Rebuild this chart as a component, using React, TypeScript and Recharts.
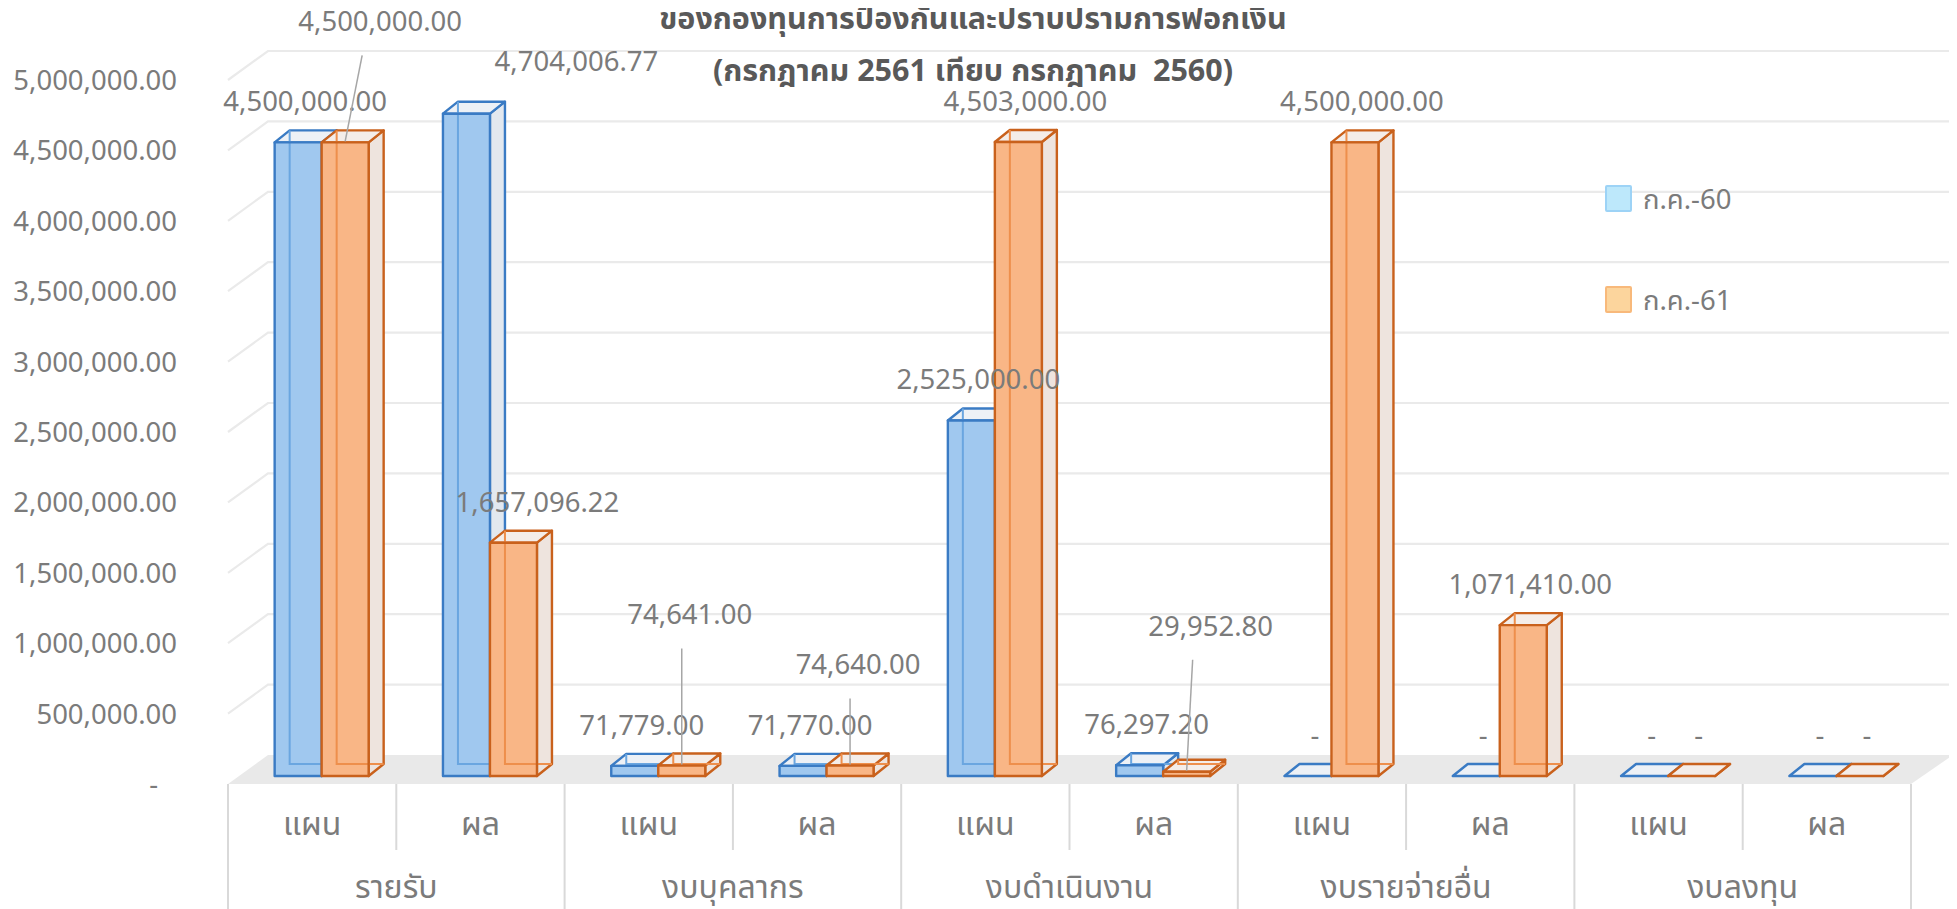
import React from 'react';
import { BarChart, Bar, XAxis, YAxis, CartesianGrid, LabelList } from 'recharts';

// ---------- data ----------
const groups = ['รายรับ', 'งบบุคลากร', 'งบดำเนินงาน', 'งบรายจ่ายอื่น', 'งบลงทุน'];
const subCategories = ['แผน', 'ผล', 'แผน', 'ผล', 'แผน', 'ผล', 'แผน', 'ผล', 'แผน', 'ผล'];
const seriesJul60 = [4500000, 4704006.77, 71779, 71770, 2525000, 76297.2, 0, 0, 0, 0];
const seriesJul61 = [4500000, 1657096.22, 74641, 74640, 4503000, 29952.8, 4500000, 1071410, 0, 0];
const seriesNames = ['ก.ค.-60', 'ก.ค.-61'];
const yTicks = [0, 500000, 1000000, 1500000, 2000000, 2500000, 3000000, 3500000, 4000000, 4500000, 5000000];
const titleLines = ['ของกองทุนการป้องกันและปราบปรามการฟอกเงิน', '(กรกฎาคม 2561 เทียบ กรกฎาคม  2560)'];

const data = subCategories.map((s, i) => ({
  sub: s,
  group: groups[Math.floor(i / 2)],
  v60: seriesJul60[i],
  v61: seriesJul61[i],
}));

// ---------- style / layout ----------
const W = 1949;
const H = 901;
const Y_AXIS_W = 220;
const X_AXIS_H = 125;
const MARGIN = { top: 72, right: 46, bottom: 0, left: 0 };
const PLOT_W = W - Y_AXIS_W - MARGIN.right;
const PLOT_BOTTOM = H - X_AXIS_H;
const BAND_HALF = PLOT_W / subCategories.length / 2;
const FONT = "'Noto Sans', 'Noto Sans Thai', 'Leelawadee UI', sans-serif";
const TEXT = '#7b7b7b';
const TITLE = '#595959';
const NUM_SIZE = 27.5;
const THAI_SIZE = 32;
const WALL_X = 40;
const WALL_Y = -29;
const DEPTH_X = 15;
const DEPTH_Y = -12;
const SHIFT_X = 10;
const SHIFT_Y = -8;

const blueStyle = { front: '#a0c8ef', side: '#e2e8ef', top: '#edf1f6', stroke: '#3a7bc4', inner: '#6aa6e0' };
const orangeStyle = { front: '#f9b686', side: '#eee4de', top: '#f4ede9', stroke: '#c9611c', inner: '#ee8f4c' };
const legendStyles = [
  { fill: '#bde8fb', stroke: '#9dd3f6' },
  { fill: '#fcd59d', stroke: '#f8b97b' },
];

// label nudges (dx, dy) relative to default position above bar
const nudges60: Record<number, [number, number]> = { 1: [103, -12] };
const nudges61: Record<number, [number, number]> = { 0: [28, -80], 1: [17, 0], 2: [1, -110], 3: [1, -60], 5: [17, -105] };

const fmt = (v: number) =>
  v.toLocaleString('en-US', { minimumFractionDigits: 2, maximumFractionDigits: 2 });

const makeBox = (c: typeof blueStyle) => (props: any) => {
  const { x, y, width, height } = props;
  if (x == null || y == null) return <g />;
  const X = x + SHIFT_X;
  const Y = y + SHIFT_Y;
  const w = width;
  const h = Math.max(0, height || 0);
  const dx = DEPTH_X;
  const dy = DEPTH_Y;
  const sw = 2.4;
  return (
    <g>
      <polygon
        points={`${X + w},${Y} ${X + w + dx},${Y + dy} ${X + w + dx},${Y + h + dy} ${X + w},${Y + h}`}
        fill={c.side}
        stroke={c.stroke}
        strokeWidth={sw}
        strokeLinejoin="round"
      />
      <polygon
        points={`${X},${Y} ${X + dx},${Y + dy} ${X + w + dx},${Y + dy} ${X + w},${Y}`}
        fill={c.top}
        stroke={c.stroke}
        strokeWidth={sw}
        strokeLinejoin="round"
      />
      <rect x={X} y={Y} width={w} height={h} fill={c.front} />
      {h > 0 && (
        <path
          d={`M${X + dx},${Y + dy} L${X + dx},${Y + h + dy} L${X + w + dx},${Y + h + dy}`}
          stroke={c.inner}
          strokeWidth={2}
          fill="none"
        />
      )}
      <rect x={X} y={Y} width={w} height={h} fill="none" stroke={c.stroke} strokeWidth={sw} strokeLinejoin="round" />
    </g>
  );
};

const makeLabels = (nudges: Record<number, [number, number]>) => (props: any) => {
  const { x, y, width, value, index } = props;
  if (x == null || y == null) return null;
  const barCx = x + width / 2 + SHIFT_X;
  const topY = y + SHIFT_Y;
  const n = nudges[index] || [0, 0];
  const cx = barCx + 7 + n[0];
  const cy = topY - 41 + n[1];
  const leader = Math.abs(n[1]) > 20;
  const sx = cx + Math.max(-18, Math.min(18, barCx - cx));
  return (
    <g>
      {leader && (
        <line x1={sx} y1={cy + 34} x2={barCx} y2={topY - 1} stroke="#a6a6a6" strokeWidth={1.5} />
      )}
      <text x={cx} y={cy} dy="0.36em" textAnchor="middle" fill={TEXT} fontSize={NUM_SIZE} fontFamily={FONT}>
        {value === 0 ? '-' : fmt(value)}
      </text>
    </g>
  );
};

const YTick = (props: any) => {
  const { x, y, payload } = props;
  const v = payload.value;
  const zero = v === 0;
  return (
    <text x={zero ? x - 19 : x} y={y} dy="0.36em" textAnchor="end" fill={TEXT} fontSize={NUM_SIZE} fontFamily={FONT}>
      {zero ? '-' : fmt(v)}
    </text>
  );
};

const XTick = (props: any) => {
  const { x, y, payload, index } = props;
  const half = BAND_HALF;
  const i = typeof index === 'number' ? index : subCategories.indexOf(payload.value);
  const groupStart = i % 2 === 0;
  const isLast = i === subCategories.length - 1;
  return (
    <g>
      <line
        x1={x - half}
        x2={x - half}
        y1={y}
        y2={groupStart ? H : y + 66}
        stroke="#d9d9d9"
        strokeWidth={2}
      />
      {isLast && <line x1={x + half} x2={x + half} y1={y} y2={H} stroke="#d9d9d9" strokeWidth={2} />}
      <text x={x} y={y + 39} dy="0.36em" textAnchor="middle" fill={TEXT} fontSize={THAI_SIZE} fontFamily={FONT}>
        {payload.value}
      </text>
      {groupStart && (
        <text x={x + half} y={y + 102} dy="0.36em" textAnchor="middle" fill={TEXT} fontSize={THAI_SIZE} fontFamily={FONT}>
          {groups[Math.floor(i / 2)]}
        </text>
      )}
    </g>
  );
};

const gridLine = (p: any) => {
  const { x1, y1, x2, key } = p;
  if (Math.abs(y1 - PLOT_BOTTOM) < 1) {
    return (
      <polygon
        key={key}
        points={`${x1},${y1} ${x1 + WALL_X},${y1 + WALL_Y} ${x2 + WALL_X + 2},${y1 + WALL_Y} ${x2},${y1}`}
        fill="#e9e9e9"
      />
    );
  }
  return (
    <path
      key={key}
      d={`M${x1},${y1} L${x1 + WALL_X},${y1 + WALL_Y} L${x2 + WALL_X + 4},${y1 + WALL_Y}`}
      stroke="#eaeaea"
      strokeWidth={2.2}
      fill="none"
    />
  );
};

const titleStyle: React.CSSProperties = {
  position: 'absolute',
  left: 365,
  width: 1200,
  lineHeight: '32px',
  textAlign: 'center',
  fontSize: 30.5,
  fontWeight: 'bold',
  color: TITLE,
  whiteSpace: 'pre',
};

export default function App() {
  return (
    <div style={{ position: 'relative', width: W, height: H, fontFamily: FONT }}>
      <BarChart
        width={W}
        height={H}
        data={data}
        margin={MARGIN}
        barCategoryGap="21.78%"
        barGap={0}
      >
        <CartesianGrid vertical={false} horizontal={gridLine} />
        <XAxis
          dataKey="sub"
          height={X_AXIS_H}
          axisLine={false}
          tickLine={false}
          tickSize={0}
          tickMargin={0}
          interval={0}
          tick={<XTick />}
        />
        <YAxis
          domain={[0, 5000000]}
          ticks={yTicks}
          width={Y_AXIS_W}
          axisLine={false}
          tickLine={false}
          tickSize={0}
          tickMargin={51}
          interval={0}
          tick={<YTick />}
        />
        <Bar dataKey="v60" name={seriesNames[0]} shape={makeBox(blueStyle)} isAnimationActive={false}>
          <LabelList dataKey="v60" content={makeLabels(nudges60)} />
        </Bar>
        <Bar dataKey="v61" name={seriesNames[1]} shape={makeBox(orangeStyle)} isAnimationActive={false}>
          <LabelList dataKey="v61" content={makeLabels(nudges61)} />
        </Bar>
      </BarChart>

      <div style={{ ...titleStyle, top: -7 }}>{titleLines[0]}</div>
      <div style={{ ...titleStyle, top: 45 }}>{titleLines[1]}</div>

      {seriesNames.map((name, i) => (
        <div
          key={name}
          style={{
            position: 'absolute',
            left: 1597,
            top: 177 + i * 101,
            height: 27,
            display: 'flex',
            alignItems: 'center',
          }}
        >
          <div
            style={{
              width: 23,
              height: 23,
              background: legendStyles[i].fill,
              border: `2px solid ${legendStyles[i].stroke}`,
              borderRadius: 2,
            }}
          />
          <span style={{ marginLeft: 11, fontSize: NUM_SIZE, color: TEXT, lineHeight: '27px' }}>{name}</span>
        </div>
      ))}
    </div>
  );
}
